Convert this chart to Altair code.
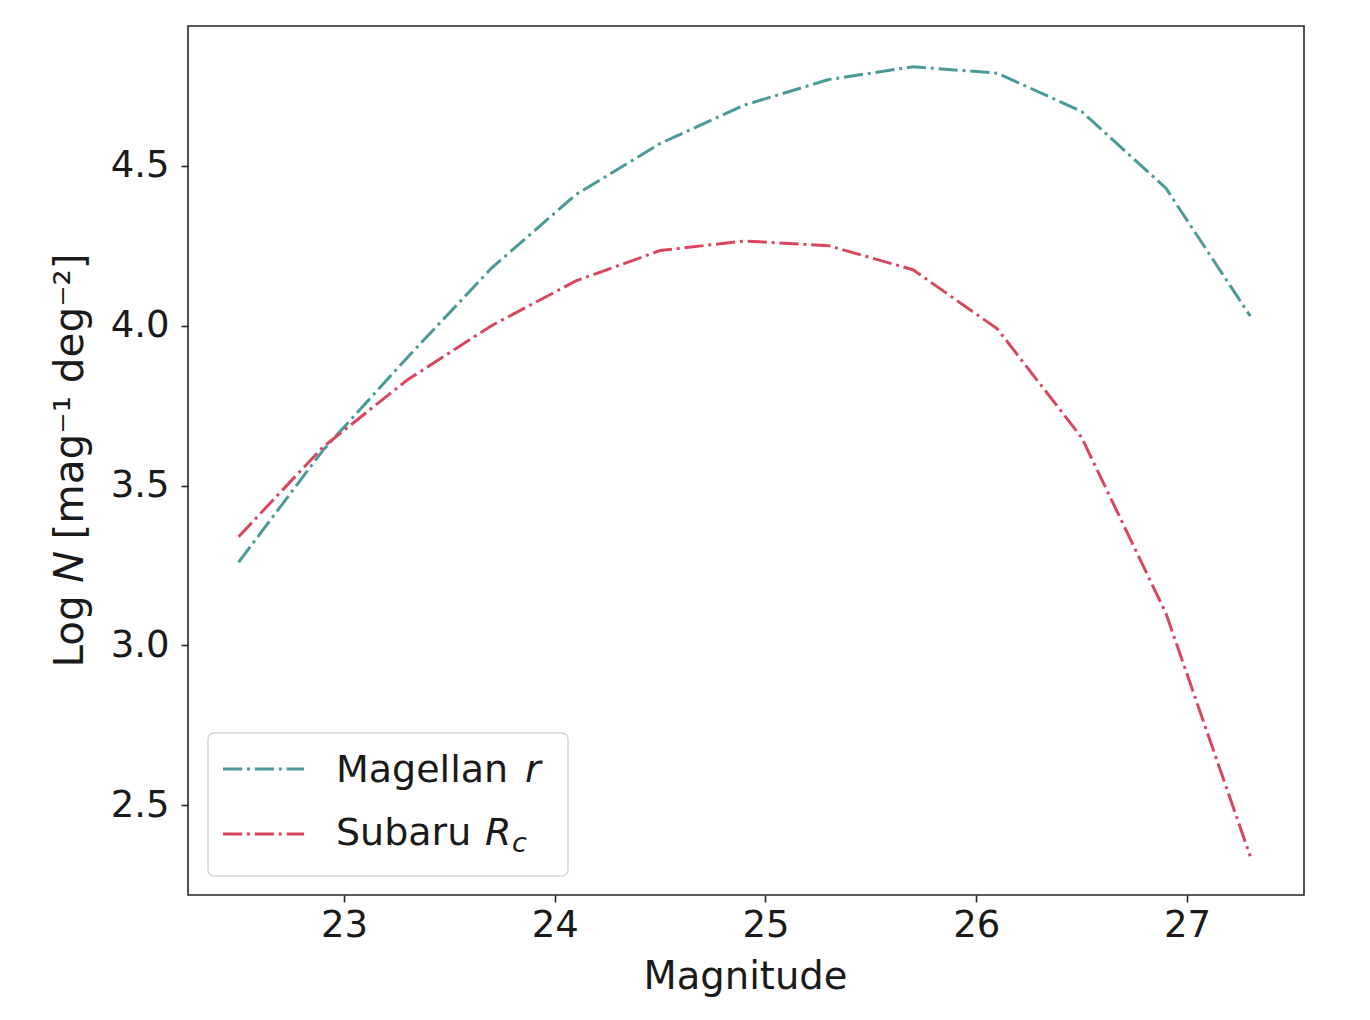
import altair as alt
import pandas as pd

# ---- data ----
mags = [22.5, 22.9, 23.3, 23.7, 24.1, 24.5, 24.9, 25.3, 25.7, 26.1, 26.5, 26.9, 27.3]
magellan_r = [3.26, 3.61, 3.90, 4.18, 4.41, 4.57, 4.69, 4.77, 4.81, 4.79, 4.67, 4.43, 4.03]
subaru_rc = [3.34, 3.62, 3.83, 4.00, 4.14, 4.235, 4.265, 4.25, 4.175, 3.99, 3.65, 3.10, 2.34]
series_names = ["Magellan r", "Subaru Rc"]
series_colors = ["#4a9a97", "#d8475f"]
x_ticks = [23, 24, 25, 26, 27]
y_ticks = [2.5, 3.0, 3.5, 4.0, 4.5]

df = pd.DataFrame({
    "mag": mags * 2,
    "logN": magellan_r + subaru_rc,
    "survey": [series_names[0]] * len(mags) + [series_names[1]] * len(mags),
})

W, H = 1116, 869
DASH = [19.2, 4.8, 3, 4.8]
FONT = "DejaVu Sans"
TXT = "#1a1a1a"

lines = alt.Chart(df).mark_line(strokeWidth=3, strokeDash=DASH, strokeCap="butt").encode(
    x=alt.X("mag:Q",
            scale=alt.Scale(domain=[22.26, 27.555], nice=False, zero=False),
            axis=alt.Axis(values=x_ticks, format="d", title="Magnitude",
                          labelPadding=5, titleFontSize=38.5,
                          titleX=557, titleY=93, titleBaseline="alphabetic")),
    y=alt.Y("logN:Q",
            scale=alt.Scale(domain=[2.219, 4.9375], nice=False, zero=False),
            axis=alt.Axis(values=y_ticks, format=".1f", title="Log 𝑁 [mag⁻¹ deg⁻²]",
                          labelPadding=12, titleFontSize=40.5,
                          titleX=-106, titleY=434, titleAngle=270,
                          titleAlign="center", titleBaseline="alphabetic")),
    color=alt.Color("survey:N", scale=alt.Scale(domain=series_names, range=series_colors),
                    legend=None),
)

one = pd.DataFrame({"k": [0]})
base = alt.Chart(one)

box = base.mark_rect(fill="white", fillOpacity=0.85, stroke="#d6d6d6", strokeWidth=1.5,
                     cornerRadius=6).encode(
    x=alt.value(20), x2=alt.value(380), y=alt.value(707), y2=alt.value(850))

sym1 = base.mark_rule(strokeWidth=3, strokeDash=DASH, strokeCap="butt",
                      color=series_colors[0]).encode(
    x=alt.value(35), x2=alt.value(116), y=alt.value(743))
sym2 = base.mark_rule(strokeWidth=3, strokeDash=DASH, strokeCap="butt",
                      color=series_colors[1]).encode(
    x=alt.value(35), x2=alt.value(116), y=alt.value(808))

def txt(s, x, y, size=37, style="normal"):
    return base.mark_text(text=s, align="left", baseline="alphabetic", font=FONT,
                          fontSize=size, fontStyle=style, color=TXT).encode(
        x=alt.value(x), y=alt.value(y))

t1 = txt("Magellan", 148, 756, size=38)
t1r = txt("r", 337, 756, size=38, style="italic")
t2 = txt("Subaru", 148, 819, size=38)
t2R = txt("R", 297, 819, size=38, style="italic")
t2c = txt("c", 324, 826, size=27, style="italic")

chart = alt.layer(lines, box, sym1, sym2, t1, t1r, t2, t2R, t2c).properties(
    width=W, height=H,
    autosize=alt.AutoSizeParams(type="none"),
    padding={"left": 180, "top": 18, "right": 50, "bottom": 110},
    background="white",
).configure_view(
    stroke="#262626", strokeWidth=1.6
).configure_axis(
    domain=False, grid=False,
    tickColor="#262626", tickWidth=1.6, tickSize=7,
    labelFont=FONT, labelFontSize=37, labelColor=TXT,
    titleFont=FONT, titleFontWeight="normal", titleColor=TXT,
)

chart.save("out.html", embed_options={"renderer": "svg", "actions": False})
